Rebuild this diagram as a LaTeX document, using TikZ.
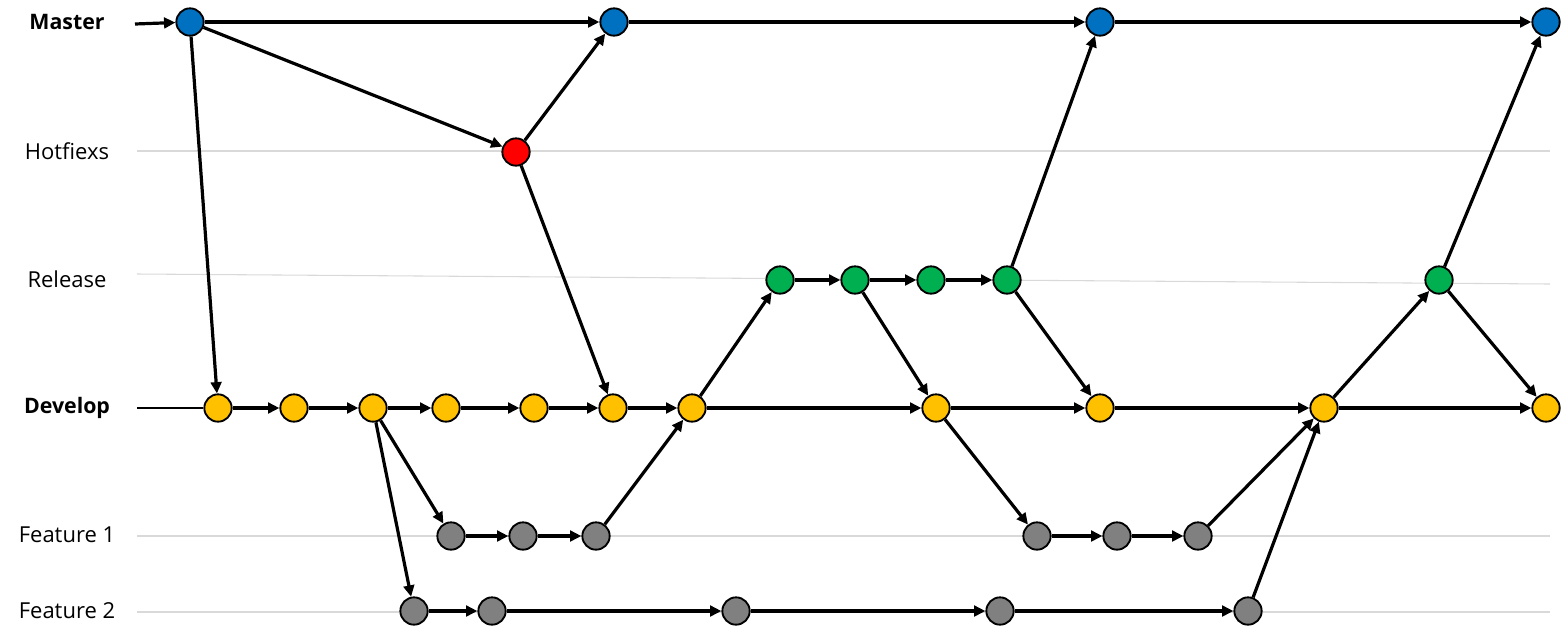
\documentclass[tikz,border=0pt]{standalone}
\usepackage{fontspec}
\setmainfont{Open Sans}
\usetikzlibrary{arrows.meta}
\definecolor{cblue}{HTML}{0070C0}
\definecolor{cred}{HTML}{FF0000}
\definecolor{cgreen}{HTML}{00B050}
\definecolor{cyellow}{HTML}{FFC000}
\definecolor{cgray}{HTML}{808080}
\definecolor{lane}{HTML}{D9D9D9}
\begin{document}
\begin{tikzpicture}[x=0.75pt,y=-0.75pt,
  commit/.style={circle,draw=black,line width=1.4pt,inner sep=0pt,minimum size=20.5pt},
  mst/.style={commit,fill=cblue},
  hot/.style={commit,fill=cred},
  rel/.style={commit,fill=cgreen},
  dev/.style={commit,fill=cyellow},
  feat/.style={commit,fill=cgray},
  flow/.style={line width=2.4pt,-{Triangle[length=8.5pt,width=8pt]}},
  laneline/.style={draw=lane,line width=0.8pt},
  lbl/.style={font=\fontsize{16.5}{20}\selectfont,anchor=center},
  blbl/.style={font=\fontsize{16}{20}\selectfont\bfseries,anchor=center}]
\useasboundingbox (0,0) rectangle (1562,640);
% labels
\node[blbl] (lm) at (67,22) {Master};
\node[lbl] (lh) at (67,151) {Hotfiexs};
\node[lbl] (lr) at (67,279) {Release};
\node[blbl] (ld) at (67,408) {Develop};
\node[lbl] (lf1) at (67,535) {Feature 1};
\node[lbl] (lf2) at (67,611) {Feature 2};
% lanes
\coordinate (h0) at (137,151); \coordinate (h1) at (1550,151);
\coordinate (r0) at (137,274); \coordinate (r1) at (1550,284);
\coordinate (f10) at (137,536); \coordinate (f11) at (1550,536);
\coordinate (f20) at (137,612); \coordinate (f21) at (1550,612);
\draw[laneline] (h0) -- (h1);
\draw[laneline] (r0) -- (r1);
\draw[laneline] (f10) -- (f11);
\draw[laneline] (f20) -- (f21);
% nodes
\node[mst] (M0) at (190,22) {};
\node[mst] (M1) at (614,22) {};
\node[mst] (M2) at (1100,22) {};
\node[mst] (M3) at (1546,22) {};
\node[hot] (H) at (516,152) {};
\node[rel] (R1) at (780,280) {};
\node[rel] (R2) at (855,280) {};
\node[rel] (R3) at (931,280) {};
\node[rel] (R4) at (1007,280) {};
\node[rel] (R5) at (1439,280) {};
\node[dev] (D1) at (218,408) {};
\node[dev] (D2) at (294,408) {};
\node[dev] (D3) at (373,408) {};
\node[dev] (D4) at (446,408) {};
\node[dev] (D5) at (534,408) {};
\node[dev] (D6) at (613,408) {};
\node[dev] (D7) at (692,408) {};
\node[dev] (D8) at (936,408) {};
\node[dev] (D9) at (1100,408) {};
\node[dev] (D10) at (1324,408) {};
\node[dev] (D11) at (1546,408) {};
\node[feat] (A1) at (451,536) {};
\node[feat] (A2) at (523,536) {};
\node[feat] (A3) at (596,536) {};
\node[feat] (A4) at (1037,536) {};
\node[feat] (A5) at (1117,536) {};
\node[feat] (A6) at (1198,536) {};
\node[feat] (B1) at (414,611) {};
\node[feat] (B2) at (492,611) {};
\node[feat] (B3) at (736,611) {};
\node[feat] (B4) at (1000,611) {};
\node[feat] (B5) at (1248,611) {};
% start lines
\coordinate (ms) at (135,24);
\coordinate (ds) at (137,408);
\draw[flow] (ms) -- (M0);
\draw[line width=0.9pt] (ds) -- (D1);
% master
\draw[flow] (M0) -- (M1);
\draw[flow] (M1) -- (M2);
\draw[flow] (M2) -- (M3);
\draw[flow] (M0) -- (H);
\draw[flow] (M0) -- (D1);
\draw[flow] (H) -- (M1);
\draw[flow] (H) -- (D6);
% develop
\draw[flow] (D1) -- (D2);
\draw[flow] (D2) -- (D3);
\draw[flow] (D3) -- (D4);
\draw[flow] (D4) -- (D5);
\draw[flow] (D5) -- (D6);
\draw[flow] (D6) -- (D7);
\draw[flow] (D7) -- (D8);
\draw[flow] (D8) -- (D9);
\draw[flow] (D9) -- (D10);
\draw[flow] (D10) -- (D11);
% feature 1
\draw[flow] (D3) -- (A1);
\draw[flow] (A1) -- (A2);
\draw[flow] (A2) -- (A3);
\draw[flow] (A3) -- (D7);
\draw[flow] (D8) -- (A4);
\draw[flow] (A4) -- (A5);
\draw[flow] (A5) -- (A6);
\draw[flow] (A6) -- (D10);
% feature 2
\draw[flow] (D3) -- (B1);
\draw[flow] (B1) -- (B2);
\draw[flow] (B2) -- (B3);
\draw[flow] (B3) -- (B4);
\draw[flow] (B4) -- (B5);
\draw[flow] (B5) -- (D10);
% release
\draw[flow] (D7) -- (R1);
\draw[flow] (R1) -- (R2);
\draw[flow] (R2) -- (R3);
\draw[flow] (R3) -- (R4);
\draw[flow] (R2) -- (D8);
\draw[flow] (R4) -- (M2);
\draw[flow] (R4) -- (D9);
\draw[flow] (D10) -- (R5);
\draw[flow] (R5) -- (M3);
\draw[flow] (R5) -- (D11);
\end{tikzpicture}
\end{document}
